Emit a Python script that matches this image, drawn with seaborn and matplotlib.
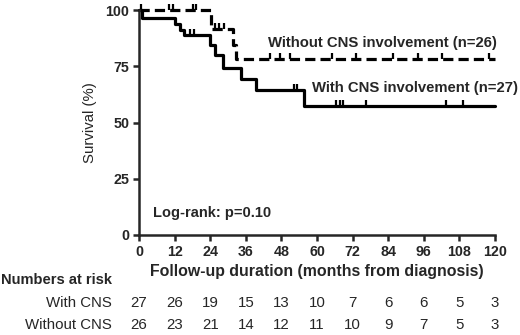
import numpy as np
import pandas as pd
import matplotlib
matplotlib.use('Agg')
import matplotlib.pyplot as plt
import matplotlib.transforms as mtransforms
import seaborn as sns

sns.set_style('ticks')
plt.rcParams['font.family'] = ['Liberation Sans', 'DejaVu Sans']

# Kaplan-Meier steps (months, survival %)
with_t = [0, 1, 12.3, 13.7, 15.1, 23.8, 25.5, 28.3, 34.5, 39.4, 55.6, 120]
with_s = [100, 96.3, 93.8, 91.3, 88.9, 84.4, 79.8, 74.4, 69.5, 64.4, 57.3, 57.3]
with_cens = [17.1, 18.5, 52.3, 53.4, 66.5, 67.6, 68.7, 76.6, 103.6, 109.3]

without_t = [0, 24.4, 31.6, 32.8, 120]
without_s = [100, 91.4, 84.6, 78.1, 78.1]
without_cens = [0.8, 10.0, 11.6, 18.2, 19.3, 25.5, 27.0, 28.5,
                44.0, 47.5, 50.8, 65.0, 73.0, 85.6, 94.0, 102.0, 118.0]

risk_times = [0, 12, 24, 36, 48, 60, 72, 84, 96, 108, 120]
risk_with = [27, 26, 19, 15, 13, 10, 7, 6, 6, 5, 3]
risk_without = [26, 23, 21, 14, 12, 11, 10, 9, 7, 5, 3]


def surv_at(times, surv, t):
    idx = np.searchsorted(times, t, side='right') - 1
    return np.asarray(surv)[idx]


df_with = pd.DataFrame({'t': with_t, 's': with_s})
df_without = pd.DataFrame({'t': without_t, 's': without_s})

fig = plt.figure(figsize=(5.2, 3.35), dpi=100)
ax = fig.add_axes([139 / 520, 1 - 235 / 335, 356 / 520, 225 / 335])

sns.lineplot(data=df_without, x='t', y='s', ax=ax, color='black', linewidth=2.3,
             drawstyle='steps-post', estimator=None, sort=False,
             linestyle=(0, (3.2, 1.6)), clip_on=False)
sns.lineplot(data=df_with, x='t', y='s', ax=ax, color='black', linewidth=2.3,
             drawstyle='steps-post', estimator=None, sort=False, clip_on=False)

# censor ticks
ax.plot(with_cens, surv_at(with_t, with_s, with_cens), ls='none', marker=2,
        ms=4.5, mew=1.6, color='black', clip_on=False)
ax.plot(without_cens, surv_at(without_t, without_s, without_cens), ls='none',
        marker=2, ms=4.5, mew=1.6, color='black', clip_on=False)

ax.set_xlim(0, 120)
ax.set_ylim(0, 100)
ax.set_xticks(risk_times)
ax.set_yticks([0, 25, 50, 75, 100])
sns.despine(ax=ax)
for sp in ['left', 'bottom']:
    ax.spines[sp].set_linewidth(1.8)
ax.tick_params(width=1.8, length=4.5, labelsize=10.3, pad=2.5)
for lab in ax.get_xticklabels() + ax.get_yticklabels():
    lab.set_fontweight('bold')

ax.set_xlabel('Follow-up duration (months from diagnosis)', fontsize=11.4,
              fontweight='bold', labelpad=4)
ax.set_ylabel('Survival (%)', fontsize=10.8, labelpad=6)

ax.text(120.8, 85.3, 'Without CNS involvement (n=26)', ha='right', va='center',
        fontsize=10.7, fontweight='bold', clip_on=False)
ax.text(127.8, 65.3, 'With CNS involvement (n=27)', ha='right', va='center',
        fontsize=10.7, fontweight='bold', clip_on=False)
ax.text(4.6, 9.8, 'Log-rank: p=0.10', ha='left', va='center',
        fontsize=10.5, fontweight='bold')

# numbers at risk table
fig.text(112 / 520, 1 - 280 / 335, 'Numbers at risk', ha='right', va='center',
         fontsize=10.5, fontweight='bold')
fig.text(112 / 520, 1 - 303 / 335, 'With CNS', ha='right', va='center', fontsize=10.8)
fig.text(112 / 520, 1 - 325 / 335, 'Without CNS', ha='right', va='center', fontsize=10.8)
tr = mtransforms.blended_transform_factory(ax.transData, fig.transFigure)
for t, a, b in zip(risk_times, risk_with, risk_without):
    ax.text(t, 1 - 303 / 335, str(a), transform=tr, ha='center', va='center',
            fontsize=10.8, clip_on=False)
    ax.text(t, 1 - 325 / 335, str(b), transform=tr, ha='center', va='center',
            fontsize=10.8, clip_on=False)

fig.savefig('out.png', dpi=100)
